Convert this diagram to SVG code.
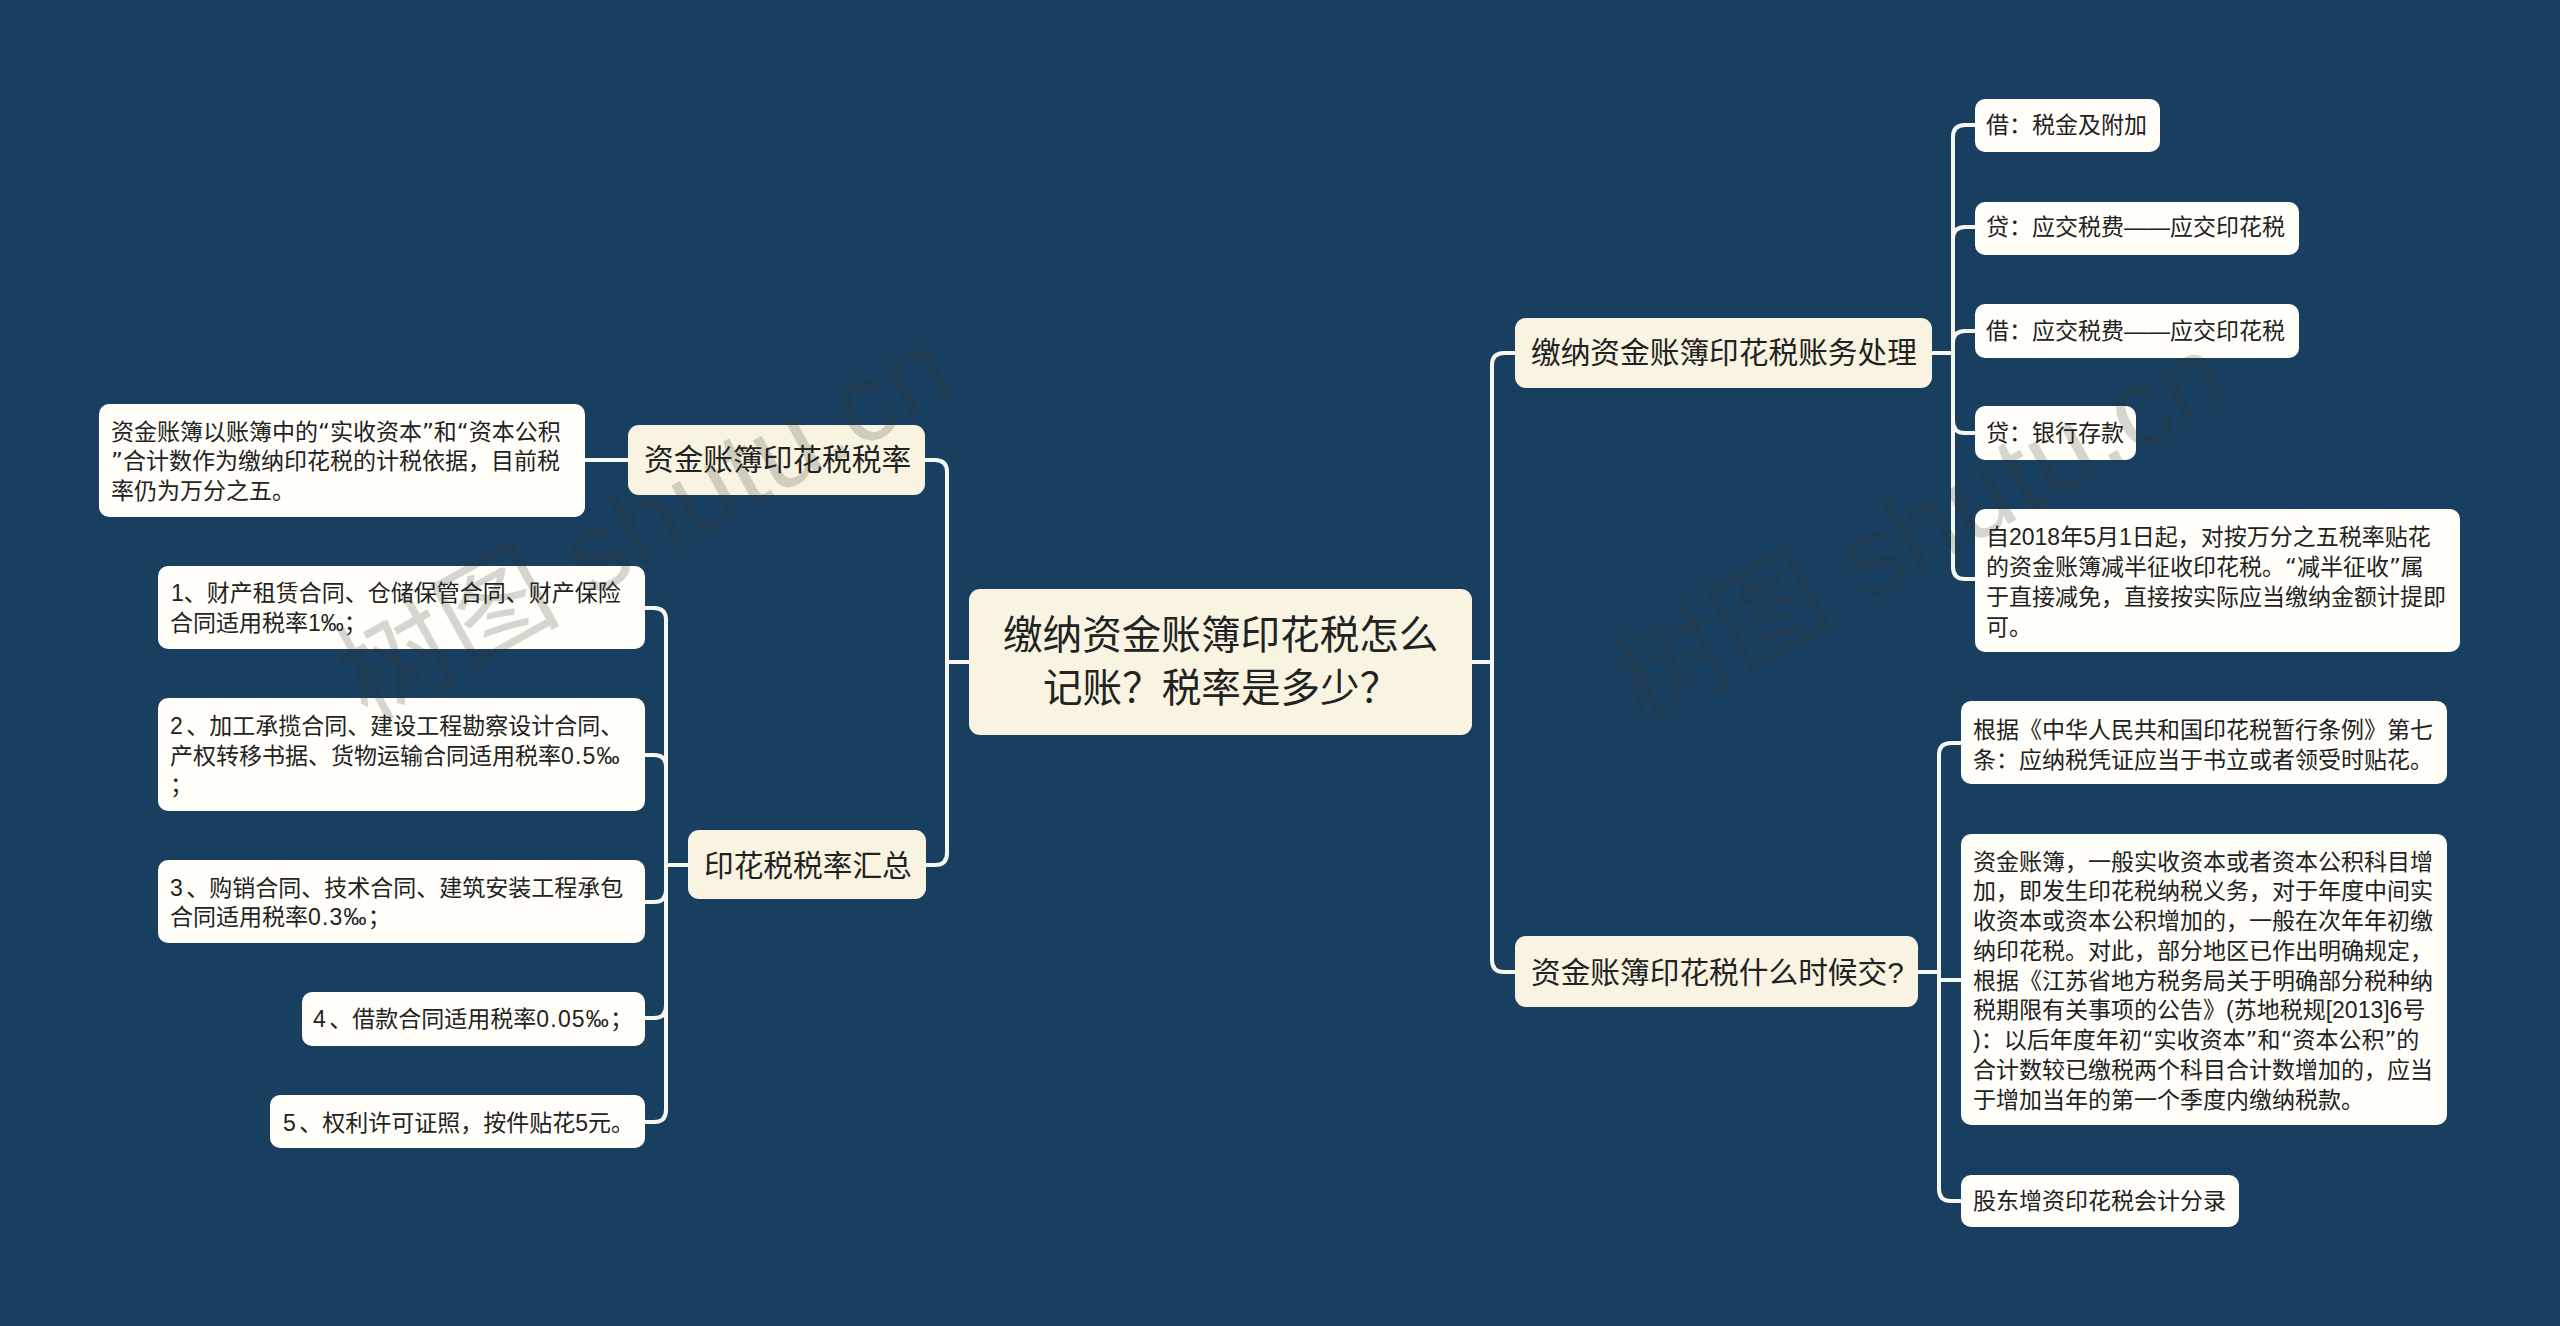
<svg xmlns="http://www.w3.org/2000/svg" width="2560" height="1326" viewBox="0 0 2560 1326">
<style>
text{font-family:"Liberation Sans","Noto Sans CJK SC",sans-serif;fill:#222}
.s text{font-size:23px}
.m text{font-size:29.7px}
.c text{font-size:39.6px}
.q{font-family:"DejaVu Sans","Noto Sans CJK SC",sans-serif}
.n{letter-spacing:1.2px}
.d{letter-spacing:3.5px}
.box{fill:#fffef8}
.cream{fill:#f8f4e1}
.conn path{fill:none;stroke:#f7f7f2;stroke-width:4}
.wm text{font-size:112px;fill:#32322a;fill-opacity:.2}
</style>
<rect width="2560" height="1326" fill="#183f60"/>
<g class="conn" id="connectors">
<path d="M969 662H947M947 662V472Q947 460 935 460H925"/>
<path d="M947 662V853Q947 865 935 865H926"/>
<path d="M628 460H585"/>
<path d="M688 865H666"/>
<path d="M666 865V620Q666 608 654 608H645"/>
<path d="M666 865V767Q666 755 654 755H645"/>
<path d="M666 865V890Q666 902 654 902H645"/>
<path d="M666 865V1006Q666 1018 654 1018H645"/>
<path d="M666 865V1110Q666 1122 654 1122H645"/>
<path d="M1472 662H1492"/>
<path d="M1492 662V365Q1492 353 1504 353H1515"/>
<path d="M1492 662V960Q1492 972 1504 972H1515"/>
<path d="M1932 353H1953"/>
<path d="M1953 353V137Q1953 125 1965 125H1975"/>
<path d="M1953 353V239Q1953 227 1965 227H1975"/>
<path d="M1953 353V343Q1953 331 1965 331H1975"/>
<path d="M1953 353V421Q1953 433 1965 433H1975"/>
<path d="M1953 353V567Q1953 579 1965 579H1975"/>
<path d="M1918 972H1939"/>
<path d="M1939 972V755Q1939 743 1951 743H1961"/>
<path d="M1939 972V980H1961"/>
<path d="M1939 972V1189Q1939 1201 1951 1201H1961"/>
</g>
<g id="root" class="c"><rect class="cream" x="969" y="589" width="503" height="146" rx="11"/>
<text x="1003" y="649">缴纳资金账簿印花税怎么</text><text x="1043" y="702">记账？税率是多少？</text></g>
<g id="n-rate" class="m"><rect class="cream" x="628" y="425" width="297" height="70" rx="11"/><text x="644" y="470">资金账簿印花税税率</text></g>
<g id="n-summary" class="m"><rect class="cream" x="688" y="830" width="238" height="69" rx="11"/><text x="704" y="876">印花税税率汇总</text></g>
<g id="n-acct" class="m"><rect class="cream" x="1515" y="318" width="417" height="70" rx="11"/><text x="1531" y="363">缴纳资金账簿印花税账务处理</text></g>
<g id="n-when" class="m"><rect class="cream" x="1515" y="936" width="403" height="71" rx="11"/><text x="1531" y="983">资金账簿印花税什么时候交?</text></g>
<g id="l-rate" class="s"><rect class="box" x="99" y="404" width="486" height="113" rx="10"/>
<text x="111" y="440">资金账簿以账簿中的<tspan class="q">“</tspan>实收资本<tspan class="q">”</tspan>和<tspan class="q">“</tspan>资本公积</text><text x="111" y="469"><tspan class="q">”</tspan>合计数作为缴纳印花税的计税依据，目前税</text><text x="111" y="499">率仍为万分之五。</text></g>
<g id="l-1" class="s"><rect class="box" x="158" y="566" width="487" height="83" rx="10"/>
<text x="171" y="601">1、财产租赁合同、仓储保管合同、财产保险</text><text x="170" y="631">合同适用税率1‰；</text></g>
<g id="l-2" class="s"><rect class="box" x="158" y="698" width="487" height="113" rx="10"/>
<text x="170" y="734"><tspan class="d">2</tspan>、加工承揽合同、建设工程勘察设计合同、</text><text x="170" y="764">产权转移书据、货物运输合同适用税率<tspan class="n">0.5‰</tspan></text><text x="170" y="793">；</text></g>
<g id="l-3" class="s"><rect class="box" x="158" y="860" width="487" height="83" rx="10"/>
<text x="170" y="896"><tspan class="d">3</tspan>、购销合同、技术合同、建筑安装工程承包</text><text x="170" y="925">合同适用税率<tspan class="n">0.3‰</tspan>；</text></g>
<g id="l-4" class="s"><rect class="box" x="302" y="992" width="343" height="54" rx="10"/><text x="313" y="1027"><tspan class="d">4</tspan>、借款合同适用税率<tspan class="n">0.05‰</tspan>；</text></g>
<g id="l-5" class="s"><rect class="box" x="270" y="1095" width="375" height="53" rx="10"/><text x="283" y="1131"><tspan class="d">5</tspan>、权利许可证照，按件贴花5元。</text></g>
<g id="r-1" class="s"><rect class="box" x="1975" y="99" width="185" height="53" rx="10"/><text x="1986" y="133">借：税金及附加</text></g>
<g id="r-2" class="s"><rect class="box" x="1975" y="202" width="324" height="53" rx="10"/><text x="1986" y="235">贷：应交税费——应交印花税</text></g>
<g id="r-3" class="s"><rect class="box" x="1975" y="304" width="324" height="54" rx="10"/><text x="1986" y="339">借：应交税费——应交印花税</text></g>
<g id="r-4" class="s"><rect class="box" x="1975" y="406" width="161" height="54" rx="10"/><text x="1986" y="441">贷：银行存款</text></g>
<g id="r-5" class="s"><rect class="box" x="1975" y="509" width="485" height="143" rx="10"/>
<text x="1986" y="545">自2018年5月1日起，对按万分之五税率贴花</text><text x="1986" y="575">的资金账簿减半征收印花税。<tspan class="q">“</tspan>减半征收<tspan class="q">”</tspan>属</text><text x="1986" y="605">于直接减免，直接按实际应当缴纳金额计提即</text><text x="1986" y="635">可。</text></g>
<g id="w-1" class="s"><rect class="box" x="1961" y="701" width="486" height="83" rx="10"/>
<text x="1973" y="738">根据《中华人民共和国印花税暂行条例》第七</text><text x="1973" y="768">条：应纳税凭证应当于书立或者领受时贴花。</text></g>
<g id="w-2" class="s"><rect class="box" x="1961" y="834" width="486" height="291" rx="10"/>
<text x="1973" y="870">资金账簿，一般实收资本或者资本公积科目增</text><text x="1973" y="899">加，即发生印花税纳税义务，对于年度中间实</text><text x="1973" y="929">收资本或资本公积增加的，一般在次年年初缴</text><text x="1973" y="959">纳印花税。对此，部分地区已作出明确规定，</text><text x="1973" y="989">根据《江苏省地方税务局关于明确部分税种纳</text><text x="1973" y="1018">税期限有关事项的公告》(苏地税规[2013]6号</text><text x="1973" y="1048">)：以后年度年初<tspan class="q">“</tspan>实收资本<tspan class="q">”</tspan>和<tspan class="q">“</tspan>资本公积<tspan class="q">”</tspan>的</text><text x="1973" y="1078">合计数较已缴税两个科目合计数增加的，应当</text><text x="1973" y="1108">于增加当年的第一个季度内缴纳税款。</text></g>
<g id="w-3" class="s"><rect class="box" x="1961" y="1175" width="278" height="52" rx="10"/><text x="1973" y="1209">股东增资印花税会计分录</text></g>
<g class="wm"><text transform="translate(367 722) rotate(-29)">树图 shutu.cn</text><text transform="translate(1642 727) rotate(-29)">树图 shutu.cn</text></g>
</svg>
